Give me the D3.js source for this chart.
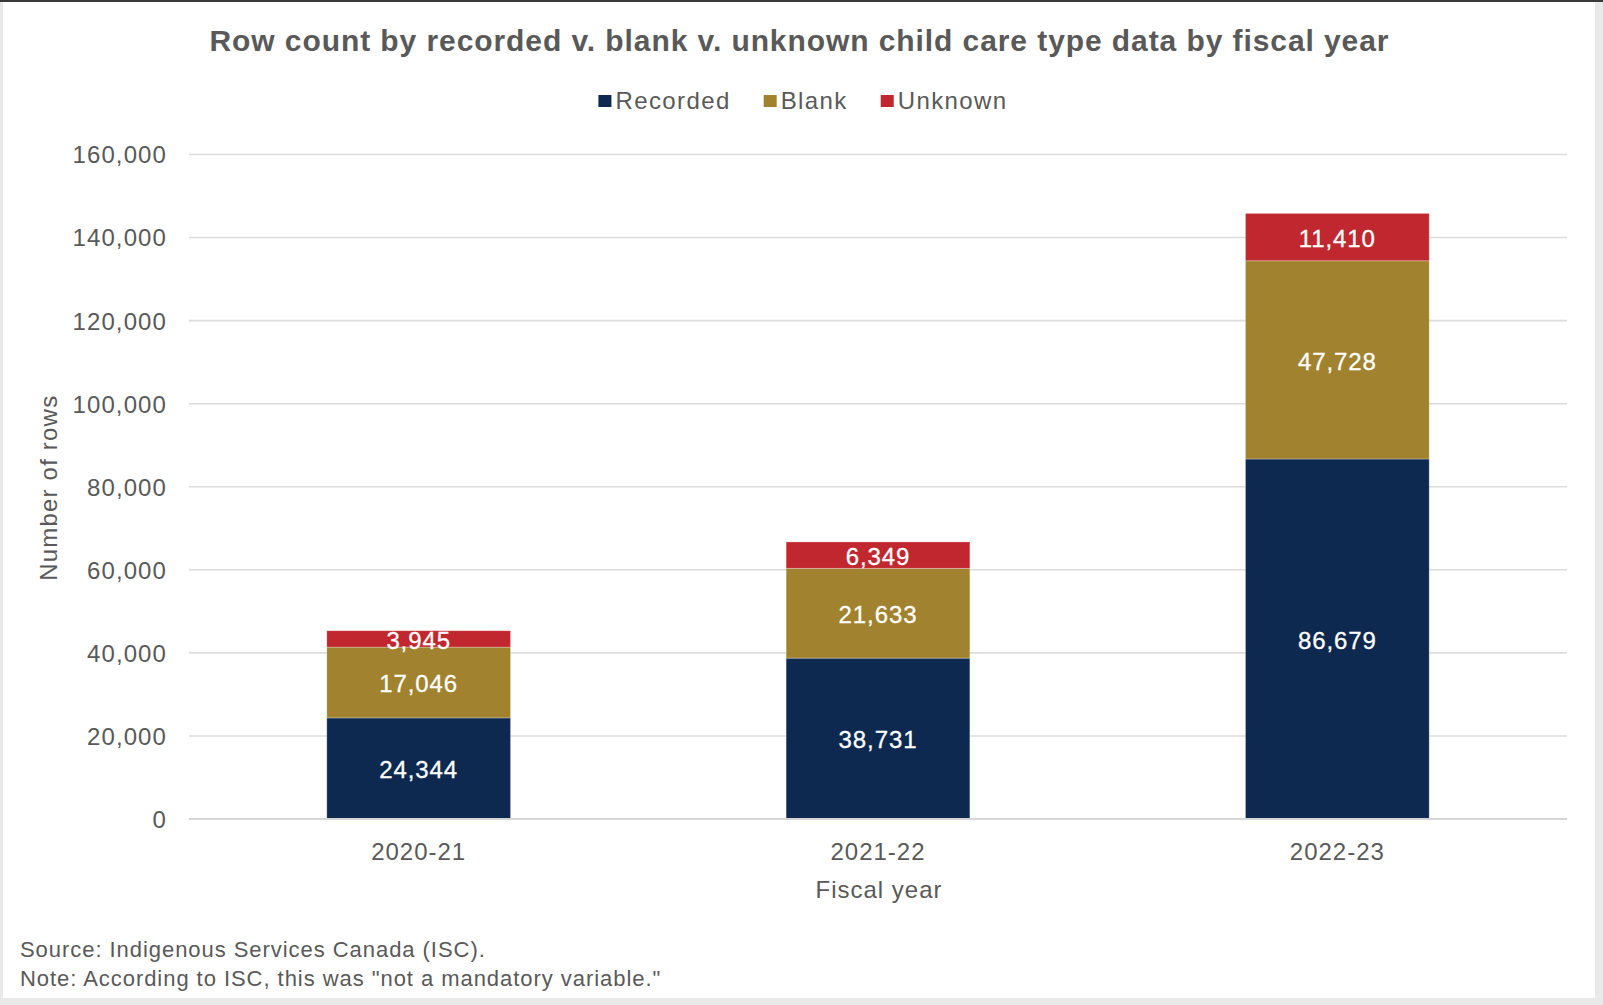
<!DOCTYPE html>
<html>
<head>
<meta charset="utf-8">
<script src="https://cdn.jsdelivr.net/npm/d3@7/dist/d3.min.js"></script>
<style>
  html, body { margin: 0; padding: 0; background: #e9e9e9; }
  svg { display: block; }
  text { font-family: "Liberation Sans", Arial, Helvetica, sans-serif; }
</style>
</head>
<body>
<svg id="chart" width="1603" height="1005"></svg>
<script>
const years = ["2020-21", "2021-22", "2022-23"];
const seriesNames = ["Recorded", "Blank", "Unknown"];
const recorded = [24344, 38731, 86679];
const blank = [17046, 21633, 47728];
const unknown = [3945, 6349, 11410];
const yTicks = [0, 20000, 40000, 60000, 80000, 100000, 120000, 140000, 160000];
const colors = ["#0e2950", "#a1822f", "#c1272e"];

const titleText = "Row count by recorded v. blank v. unknown child care type data by fiscal year";
const yTitle = "Number of rows";
const xTitle = "Fiscal year";
const notes = ["Source: Indigenous Services Canada (ISC).",
               "Note: According to ISC, this was \"not a mandatory variable.\""];

const W = 1603, H = 1005;
const m = { left: 189, right: 1567, top: 154.5, bottom: 819 };
const textColor = "#595959";

const svg = d3.select("#chart");

// card background
svg.append("rect").attr("x", 0).attr("y", 0).attr("width", W).attr("height", H).attr("fill", "#e9e9e9");
svg.append("rect").attr("x", 3).attr("y", 2).attr("width", 1592).attr("height", 996).attr("fill", "#ffffff");
svg.append("rect").attr("x", 0).attr("y", 0).attr("width", W).attr("height", 2).attr("fill", "#3a3a3a");

const data = years.map((y, i) => ({ year: y, Recorded: recorded[i], Blank: blank[i], Unknown: unknown[i] }));
const stacked = d3.stack().keys(seriesNames)(data);

const x = d3.scaleBand().domain(years).range([m.left, m.right]).paddingInner(0.6).paddingOuter(0.3);
const y = d3.scaleLinear().domain([0, 160000]).range([m.bottom, m.top]);

// gridlines
svg.append("g").selectAll("line").data(yTicks).join("line")
  .attr("x1", m.left).attr("x2", m.right)
  .attr("y1", d => y(d)).attr("y2", d => y(d))
  .attr("stroke", "#dcdcdc").attr("stroke-width", 1.6);

// y axis labels
const yAxis = d3.axisLeft(y).tickValues(yTicks).tickFormat(d3.format(",")).tickSize(0).tickPadding(0);
const yg = svg.append("g").attr("transform", `translate(${167},0)`).call(yAxis);
yg.select(".domain").remove();
yg.selectAll("text").attr("fill", textColor).attr("font-size", 24).attr("letter-spacing", "1.1px")
  .attr("font-family", "Liberation Sans, Arial, sans-serif").attr("dy", "0.35em").attr("x", 0);

// bars
const layers = svg.append("g").selectAll("g").data(stacked).join("g")
  .attr("fill", (d, i) => colors[i]);
layers.selectAll("rect").data(d => d.map(v => ({ v, key: d.key }))).join("rect")
  .attr("x", d => x(d.v.data.year))
  .attr("width", x.bandwidth())
  .attr("y", d => y(d.v[1]))
  .attr("height", d => y(d.v[0]) - y(d.v[1]))
  .attr("stroke", "#ffffff").attr("stroke-opacity", 0.35).attr("stroke-width", 0.8);

// data labels
layers.selectAll("text").data(d => d.map(v => ({ v, key: d.key }))).join("text")
  .attr("x", d => x(d.v.data.year) + x.bandwidth() / 2)
  .attr("y", d => (y(d.v[0]) + y(d.v[1])) / 2 + 1.5)
  .attr("dy", "0.35em")
  .attr("text-anchor", "middle")
  .attr("fill", "#ffffff")
  .attr("font-size", 24).attr("letter-spacing", "0.9px")
  .attr("stroke", "#ffffff").attr("stroke-width", 0.3)
  .text(d => d3.format(",")(d.v.data[d.key]));

// x axis baseline
svg.append("line").attr("x1", m.left).attr("x2", m.right).attr("y1", y(0)).attr("y2", y(0))
  .attr("stroke", "#d6d6d6").attr("stroke-width", 1.8);

// x axis labels
const xAxis = d3.axisBottom(x).tickSize(0).tickPadding(0);
const xg = svg.append("g").attr("transform", `translate(0,${859.5})`).call(xAxis);
xg.select(".domain").remove();
xg.selectAll("text").attr("fill", textColor).attr("font-size", 24).attr("letter-spacing", "1px")
  .attr("font-family", "Liberation Sans, Arial, sans-serif").attr("dy", 0).attr("y", 0);

// axis titles
svg.append("text").attr("x", (m.left + m.right) / 2 + 1).attr("y", 897.5)
  .attr("text-anchor", "middle").attr("fill", textColor).attr("font-size", 24).attr("letter-spacing", "1px")
  .text(xTitle);
svg.append("text").attr("transform", `translate(57,${(m.top + m.bottom) / 2 + 1}) rotate(-90)`)
  .attr("text-anchor", "middle").attr("fill", textColor).attr("font-size", 24).attr("letter-spacing", "1.2px")
  .text(yTitle);

// title
svg.append("text").attr("x", 799).attr("y", 51)
  .attr("text-anchor", "middle").attr("fill", textColor).attr("font-size", 30).attr("font-weight", "bold")
  .attr("textLength", 1179)
  .text(titleText);

// legend
const lg = svg.append("g");
let cx = 0;
const gap = 33;
seriesNames.forEach((name, i) => {
  const g = lg.append("g");
  g.append("rect").attr("x", 0).attr("y", 95).attr("width", 13).attr("height", 12).attr("fill", colors[i]);
  const t = g.append("text").attr("x", 17).attr("y", 108.7).attr("fill", textColor)
    .attr("font-size", 24).attr("letter-spacing", "1.4px").text(name);
  const w = 17 + t.node().getComputedTextLength();
  g.attr("transform", `translate(${cx},0)`);
  cx += w + gap;
});
const totalW = cx - gap;
lg.attr("transform", `translate(${803 - totalW / 2},0)`);

// notes
notes.forEach((n, i) => {
  svg.append("text").attr("x", 20).attr("y", 956.5 + i * 29.5)
    .attr("fill", textColor).attr("font-size", 22).attr("letter-spacing", "0.95px").text(n);
});
</script>
</body>
</html>
